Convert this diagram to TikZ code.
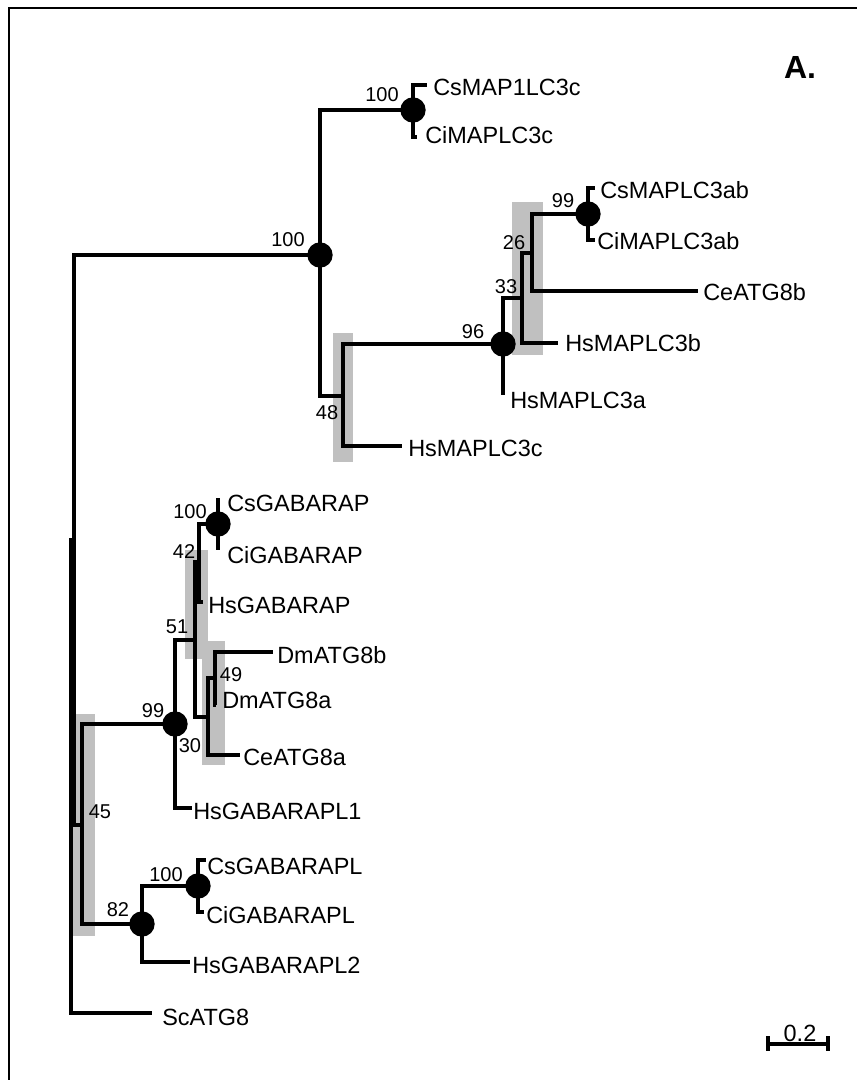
\documentclass[tikz,border=0pt]{standalone}
\usepackage{fontspec}
\setmainfont{Liberation Sans}
\definecolor{shadegray}{RGB}{192,192,192}
\begin{document}
\begin{tikzpicture}[x=0.75pt,y=-0.75pt,
  br/.style={line width=3pt, line join=miter},
  dot/.style={circle, fill=black, inner sep=0pt, minimum size=19pt},
  leaf/.style={anchor=west, inner sep=0pt, font=\fontsize{17.6}{20}\selectfont},
  boot/.style={inner sep=0pt, font=\fontsize{15}{17}\selectfont},
  shade/.style={fill=shadegray, draw=none}]
\useasboundingbox (0,0) rectangle (857,1080);
% frame
\draw[line width=2.2pt] (9,1080) -- (9,8) -- (857,8);
% shaded boxes
\fill[shade] (512,202) rectangle (543,355);
\fill[shade] (333,333) rectangle (353,462);
\fill[shade] (185,550) rectangle (208,659);
\fill[shade] (202,641) rectangle (225,765);
\fill[shade] (73,714) rectangle (95,936);
% internal nodes
\coordinate (r0) at (71,775);
\coordinate (r1) at (74,540);
\coordinate (n100) at (320,255);
\coordinate (nC) at (413,110);
\coordinate (n48) at (343,396);
\coordinate (n96) at (503,344);
\coordinate (n33) at (522,298);
\coordinate (n26) at (532,253);
\coordinate (n99) at (588,214);
\coordinate (n45) at (82,825);
\coordinate (n99g) at (175,724);
\coordinate (n51) at (195,640);
\coordinate (n42) at (199,562);
\coordinate (n100g) at (218,524);
\coordinate (n30) at (208,717);
\coordinate (n49) at (215,678);
\coordinate (n82) at (142,924);
\coordinate (n100l) at (198,886);
% leaf tips
\coordinate (tSc) at (152,1013);
\coordinate (tCs) at (427,85);
\coordinate (tCi) at (417,137);
\coordinate (tHc) at (402,446);
\coordinate (tHa) at (503,395);
\coordinate (tHb) at (558,343);
\coordinate (tCe) at (698,291);
\coordinate (tCsab) at (595,188);
\coordinate (tCiab) at (595,240);
\coordinate (tL1) at (192,808);
\coordinate (tHsG) at (203,602);
\coordinate (tCsG) at (218,498);
\coordinate (tCiG) at (218,550);
\coordinate (tCeA) at (240,755);
\coordinate (tDb) at (273,652);
\coordinate (tDa) at (216,705);
\coordinate (tL2) at (190,962);
\coordinate (tCsL) at (206,860);
\coordinate (tCiL) at (204,912);
% branches
\draw[br] (r0) |- (r1);
\draw[br] (r0) |- (tSc);
\draw[br] (r1) |- (n100);
\draw[br] (r1) |- (n45);
\draw[br] (n100) |- (nC);
\draw[br] (n100) |- (n48);
\draw[br] (nC) |- (tCs);
\draw[br] (nC) |- (tCi);
\draw[br] (n48) |- (n96);
\draw[br] (n48) |- (tHc);
\draw[br] (n96) |- (n33);
\draw[br] (n96) |- (tHa);
\draw[br] (n33) |- (n26);
\draw[br] (n33) |- (tHb);
\draw[br] (n26) |- (n99);
\draw[br] (n26) |- (tCe);
\draw[br] (n99) |- (tCsab);
\draw[br] (n99) |- (tCiab);
\draw[br] (n45) |- (n99g);
\draw[br] (n45) |- (n82);
\draw[br] (n99g) |- (n51);
\draw[br] (n99g) |- (tL1);
\draw[br] (n51) |- (n42);
\draw[br] (n51) |- (n30);
\draw[br] (n42) |- (n100g);
\draw[br] (n42) |- (tHsG);
\draw[br] (n100g) -- (tCsG);
\draw[br] (n100g) -- (tCiG);
\draw[br] (n30) |- (n49);
\draw[br] (n30) |- (tCeA);
\draw[br] (n49) |- (tDb);
\draw[br] (n49) |- (tDa);
\draw[br] (n82) |- (n100l);
\draw[br] (n82) |- (tL2);
\draw[br] (n100l) |- (tCsL);
\draw[br] (n100l) |- (tCiL);
% dots
\node[dot] (d100) at (n100) {};
\node[dot] (dC) at (nC) {};
\node[dot] (d96) at (n96) {};
\node[dot] (d99) at (n99) {};
\node[dot] (d99g) at (n99g) {};
\node[dot] (d100g) at (n100g) {};
\node[dot] (d82) at (n82) {};
\node[dot] (d100l) at (n100l) {};
% bootstrap labels
\node[boot] (b100) at (288,240) {100};
\node[boot] (bC) at (382,95) {100};
\node[boot] (b96) at (473,332) {96};
\node[boot] (b48) at (327,413) {48};
\node[boot] (b33) at (506,287) {33};
\node[boot] (b26) at (514,243) {26};
\node[boot] (b99) at (563,201) {99};
\node[boot] (b100g) at (190,512) {100};
\node[boot] (b42) at (184,552) {42};
\node[boot] (b51) at (177,627) {51};
\node[boot] (b49) at (231,675) {49};
\node[boot] (b30) at (190,746) {30};
\node[boot] (b99g) at (153,711) {99};
\node[boot] (b45) at (100,812) {45};
\node[boot] (b100l) at (166,875) {100};
\node[boot] (b82) at (118,910) {82};
% leaf labels
\node[leaf] (lCs) at (433,87) {CsMAP1LC3c};
\node[leaf] (lCi) at (425,135) {CiMAPLC3c};
\node[leaf] (lCsab) at (600,190) {CsMAPLC3ab};
\node[leaf] (lCiab) at (597,241) {CiMAPLC3ab};
\node[leaf] (lCe) at (703,292) {CeATG8b};
\node[leaf] (lHb) at (565,343) {HsMAPLC3b};
\node[leaf] (lHa) at (510,400) {HsMAPLC3a};
\node[leaf] (lHc) at (408,448) {HsMAPLC3c};
\node[leaf] (lCsG) at (227,503) {CsGABARAP};
\node[leaf] (lCiG) at (227,555) {CiGABARAP};
\node[leaf] (lHsG) at (208,605) {HsGABARAP};
\node[leaf] (lDb) at (277,655) {DmATG8b};
\node[leaf] (lDa) at (222,700) {DmATG8a};
\node[leaf] (lCeA) at (243,757) {CeATG8a};
\node[leaf] (lL1) at (193,811) {HsGABARAPL1};
\node[leaf] (lCsL) at (207,866) {CsGABARAPL};
\node[leaf] (lCiL) at (206,915) {CiGABARAPL};
\node[leaf] (lL2) at (192,965) {HsGABARAPL2};
\node[leaf] (lSc) at (162,1017) {ScATG8};
% panel letter
\node[inner sep=0pt, font=\fontsize{24}{28}\selectfont\bfseries] (panel) at (800,67) {A.};
% scale bar
\coordinate (sb1) at (768,1044);
\coordinate (sb2) at (828,1044);
\draw[line width=2.4pt] (sb1) -- (sb2);
\draw[line width=2.4pt] ([yshift=-5]sb1) -- ([yshift=6]sb1);
\draw[line width=2.4pt] ([yshift=-5]sb2) -- ([yshift=6]sb2);
\node[boot, font=\fontsize{17.6}{20}\selectfont] (sbl) at (800,1033) {0.2};
\end{tikzpicture}
\end{document}
